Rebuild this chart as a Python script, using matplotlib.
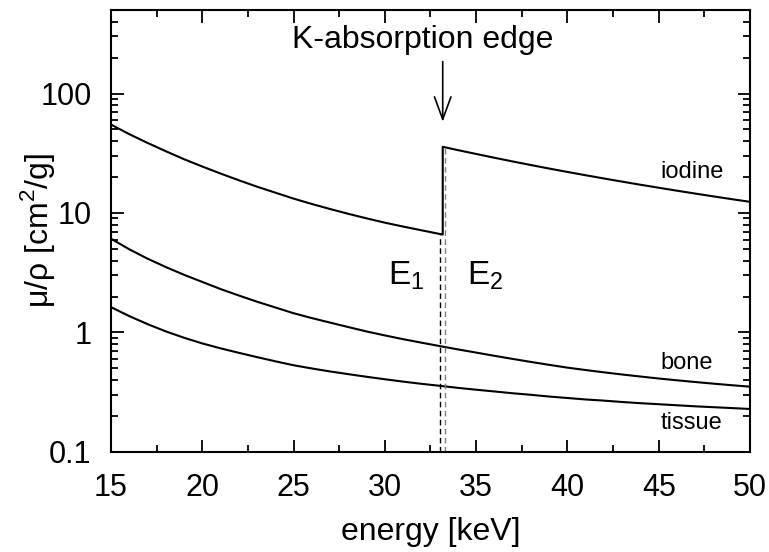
import numpy as np
import matplotlib
matplotlib.use("Agg")
import matplotlib.pyplot as plt

plt.rcParams['font.family'] = ['Liberation Sans', 'DejaVu Sans']
plt.rcParams['mathtext.fontset'] = 'custom'
plt.rcParams['mathtext.rm'] = 'Liberation Sans'

# mass attenuation coefficients [cm^2/g] vs photon energy [keV], 1 keV steps
energy = list(range(15, 51))
bone = [6.1, 4.97, 4.15, 3.53, 3.04, 2.65, 2.31, 2.04, 1.81, 1.62,
        1.45, 1.32, 1.21, 1.11, 1.02, 0.945, 0.879, 0.822, 0.770, 0.722,
        0.679, 0.638, 0.601, 0.567, 0.536, 0.508, 0.485, 0.464, 0.445, 0.428,
        0.412, 0.398, 0.385, 0.373, 0.362, 0.352]
tissue = [1.63, 1.372, 1.175, 1.022, 0.904, 0.810, 0.737, 0.676, 0.622, 0.574,
          0.532, 0.500, 0.472, 0.448, 0.426, 0.406, 0.388, 0.372, 0.358, 0.344,
          0.332, 0.321, 0.310, 0.301, 0.291, 0.283, 0.275, 0.269, 0.262, 0.256,
          0.251, 0.246, 0.241, 0.237, 0.233, 0.229]

# iodine, split at the K edge
k_edge = 33.17
iodine_low_e = [15, 16, 17, 18, 19, 20, 21, 22, 23, 24, 25, 26, 27, 28, 29,
                30, 31, 32, 33, 33.17]
iodine_low = [55, 45.7, 38.6, 32.9, 28.2, 24.5, 21.4, 18.8, 16.6, 14.8, 13.2,
              11.9, 10.8, 9.84, 9.02, 8.30, 7.70, 7.17, 6.68, 6.60]
iodine_high_e = [33.17, 34, 35, 36, 37, 38, 39, 40, 41, 42, 43, 44, 45, 46,
                 47, 48, 49, 50]
iodine_high = [35.8, 33.6, 31.2, 29.0, 27.0, 25.2, 23.55, 22.06, 20.7, 19.45,
               18.3, 17.24, 16.27, 15.37, 14.54, 13.77, 13.06, 12.4]

# the two imaging energies either side of the edge
e1, e2 = 33.03, 33.32
e1_top, e2_top = 6.6, 35.5

fig = plt.figure(figsize=(7.69, 5.52), dpi=100)
ax = fig.add_axes([0.1443, 0.1812, 0.831, 0.8007])

ax.plot(iodine_low_e + iodine_high_e, iodine_low + iodine_high, color='black', lw=1.5)
ax.plot(energy, bone, color='black', lw=1.5)
ax.plot(energy, tissue, color='black', lw=1.5)

ax.plot([e1, e1], [0.1, e1_top], color='black', lw=1, ls=(0, (4, 2.5)))
ax.plot([e2, e2], [0.1, e2_top], color='gray', lw=1, ls=(0, (4, 2.5)))

ax.set_yscale('log')
ax.set_xlim(15, 50)
ax.set_ylim(0.1, 500)
ax.set_xticks([15, 20, 25, 30, 35, 40, 45, 50])
ax.set_xticks(np.arange(17.5, 50, 5), minor=True)
ax.set_yticks([0.1, 1, 10, 100])
ax.set_yticklabels(['0.1', '1', '10', '100'])

ax.tick_params(which='both', direction='in', top=True, right=True, width=1.3, labelsize=22)
ax.tick_params(axis='x', pad=15)
ax.tick_params(axis='y', pad=14)
ax.tick_params(which='major', length=9)
ax.tick_params(which='minor', length=5)
for s in ax.spines.values():
    s.set_linewidth(1.5)

ax.set_xlabel('energy [keV]', fontsize=23, labelpad=10)
ax.set_ylabel(r'μ/ρ [cm$^\mathregular{2}$/g]', fontsize=23)
ax.yaxis.set_label_coords(-0.084, 0.5)

ax.text(32.1, 280, 'K-absorption edge', ha='center', va='center', fontsize=23)
ax.annotate('', xy=(k_edge, 58), xytext=(k_edge, 185),
            arrowprops=dict(arrowstyle='->, head_length=0.9, head_width=0.33',
                            color='black', lw=1.2, mutation_scale=18,
                            shrinkA=0, shrinkB=0))

ax.text(30.2, 3.0, r'E$_\mathregular{1}$', fontsize=24, va='center', ha='left')
ax.text(34.5, 3.0, r'E$_\mathregular{2}$', fontsize=24, va='center', ha='left')

ax.text(45.1, 22.2, 'iodine', fontsize=17, va='center', ha='left')
ax.text(45.1, 0.56, 'bone', fontsize=17, va='center', ha='left')
ax.text(45.1, 0.175, 'tissue', fontsize=17, va='center', ha='left')

fig.savefig('out.png', dpi=100)
